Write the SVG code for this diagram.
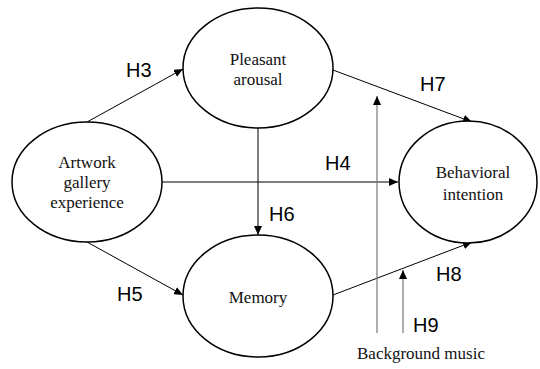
<svg xmlns="http://www.w3.org/2000/svg" width="540" height="369" viewBox="0 0 540 369">
<defs>
<marker id="ah" markerWidth="10" markerHeight="8" refX="9" refY="4" orient="auto" markerUnits="userSpaceOnUse">
<path d="M0,0 L9,4 L0,8 Z" fill="#000"/>
</marker>
<style>
.node ellipse{fill:#fff;stroke:#000;stroke-width:1.5}
.nt{font-family:"Liberation Serif","Times New Roman",serif;font-size:17px;fill:#111;text-anchor:middle}
.hl{font-family:"Liberation Sans",Arial,sans-serif;font-size:20px;fill:#000}
.edge{stroke:#000;stroke-width:1;fill:none;marker-end:url(#ah)}
.mod{stroke:#777;stroke-width:1.2;fill:none;marker-end:url(#ah)}
</style>
</defs>
<rect width="540" height="369" fill="#fff"/>
<g id="connectors">
<line class="edge" x1="87" y1="122" x2="183" y2="69"/>
<line class="edge" x1="333" y1="70" x2="472" y2="122"/>
<line class="edge" x1="162" y1="182" x2="398" y2="182"/>
<line class="edge" x1="258" y1="128" x2="258" y2="235"/>
<line class="edge" x1="87" y1="242" x2="183" y2="295"/>
<line class="edge" x1="333" y1="295" x2="472" y2="242"/>
<line class="mod" x1="377" y1="333" x2="377" y2="96"/>
<line class="mod" x1="403" y1="333" x2="403" y2="270"/>
</g>
<g id="pleasant" class="node">
<ellipse cx="258" cy="68" rx="75" ry="60"/>
<text class="nt" x="258" y="65">Pleasant</text>
<text class="nt" x="258" y="85">arousal</text>
</g>
<g id="artwork" class="node">
<ellipse cx="87" cy="182" rx="75" ry="60"/>
<text class="nt" x="87" y="168">Artwork</text>
<text class="nt" x="87" y="188">gallery</text>
<text class="nt" x="87" y="208">experience</text>
</g>
<g id="memory" class="node">
<ellipse cx="258" cy="296" rx="75" ry="61"/>
<text class="nt" x="258" y="303">Memory</text>
</g>
<g id="behavioral" class="node">
<ellipse cx="468" cy="182" rx="69" ry="61"/>
<text class="nt" x="473" y="178">Behavioral</text>
<text class="nt" x="473" y="200">intention</text>
</g>
<g id="labels">
<text class="hl" x="126" y="77">H3</text>
<text class="hl" x="420" y="91">H7</text>
<text class="hl" x="325" y="170">H4</text>
<text class="hl" x="269" y="221">H6</text>
<text class="hl" x="117" y="301">H5</text>
<text class="hl" x="436" y="281">H8</text>
<text class="hl" x="413" y="332">H9</text>
<text class="nt" x="421" y="359">Background music</text>
</g>
</svg>
